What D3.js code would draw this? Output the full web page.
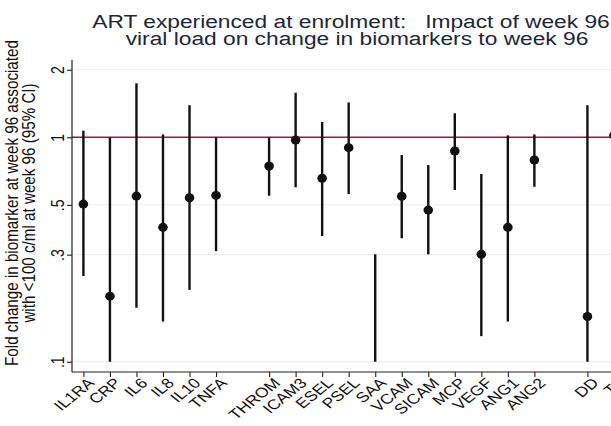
<!DOCTYPE html>
<html>
<head>
<meta charset="utf-8">
<script src="https://cdn.jsdelivr.net/npm/d3@7"></script>
<style>
html,body{margin:0;padding:0;background:#fff;overflow:hidden;}
svg{display:block;font-family:"Liberation Sans",Arial,sans-serif;}
text{white-space:pre;}
</style>
</head>
<body>
<svg id="chart" width="611" height="426"></svg>
<script>
// ---- data ----
const categories = ["IL1RA","CRP","IL6","IL8","IL10","TNFA","THROM","ICAM3","ESEL","PSEL","SAA","VCAM","SICAM","MCP","VEGF","ANG1","ANG2","DD","TF"];
const slots      = [1,2,3,4,5,6,8,9,10,11,12,13,14,15,16,17,18,20,21];
const estimate   = [0.504,0.196,0.547,0.397,0.538,0.551,0.745,0.973,0.657,0.899,0.07,0.546,0.474,0.869,0.301,0.397,0.792,0.159,1.02];
const lower      = [0.241,0.100,0.174,0.151,0.209,0.311,0.549,0.599,0.363,0.559,0.100,0.355,0.301,0.582,0.130,0.151,0.602,0.100,0.75];
const upper      = [1.07,1.00,1.74,1.03,1.39,1.00,1.00,1.58,1.17,1.43,0.301,0.834,0.752,1.28,0.686,1.02,1.03,1.39,1.40];
const yTicks     = [0.1,0.3,0.5,1,2];
const yTickLabels= [".1",".3",".5","1","2"];
const refValue   = 1;
const titleLines = ["ART experienced at enrolment:   Impact of week 96","viral load on change in biomarkers to week 96"];
const yTitleLines= ["Fold change in biomarker at week 96 associated","with <100 c/ml at week 96 (95% CI)"];

// ---- layout ----
const svg = d3.select("#chart");
const plotLeft = 72, plotTop = 60, plotBottom = 372;
const sx = 1.25; // horizontal stretch of the original picture's text
const x = d3.scaleLinear().domain([0.57, 22.6]).range([plotLeft, 656.4]);
const y = d3.scaleLog().domain([0.09, 2.21]).range([plotBottom, plotTop]);

svg.append("defs").append("clipPath").attr("id","plotclip")
  .append("rect").attr("x",plotLeft).attr("y",plotTop-5).attr("width",700).attr("height",plotBottom-plotTop+5);

// faint gridlines
svg.append("g").selectAll("line").data(yTicks.filter(t=>t!==refValue)).join("line")
  .attr("x1",plotLeft+2).attr("x2",611).attr("y1",d=>y(d)).attr("y2",d=>y(d))
  .attr("stroke","#ececec").attr("stroke-width",1);

// reference line
svg.append("line").attr("x1",plotLeft).attr("x2",611).attr("y1",y(refValue)).attr("y2",y(refValue))
  .attr("stroke","#a8143c").attr("stroke-width",1.6);

// y axis
const yAxis = d3.axisLeft(y).tickValues(yTicks).tickFormat((d,i)=>yTickLabels[i]).tickSize(5);
const gy = svg.append("g").attr("transform",`translate(${plotLeft},0)`).call(yAxis);
gy.select(".domain").attr("d",`M0,${plotTop}V${plotBottom}`).attr("stroke","#222").attr("stroke-width",1.2);
gy.selectAll(".tick line").attr("stroke","#222").attr("stroke-width",1.1);
gy.selectAll(".tick text").attr("font-size",14).attr("fill","#111")
  .attr("text-anchor","middle").attr("x",0).attr("y",0).attr("dy","0")
  .attr("transform",`translate(-8,0) scale(${sx},1) rotate(-90)`);

// x axis
const xAxis = d3.axisBottom(x).tickValues(slots).tickFormat((d,i)=>categories[i]).tickSize(5);
const gx = svg.append("g").attr("transform",`translate(0,${plotBottom})`).call(xAxis);
gx.select(".domain").attr("d",`M${plotLeft},0H700`).attr("stroke","#222").attr("stroke-width",1.2);
gx.selectAll(".tick line").attr("stroke","#222").attr("stroke-width",1.1);
gx.selectAll(".tick text").attr("font-size",14).attr("fill","#111")
  .attr("text-anchor","end").attr("dy","0.7em").attr("y",0)
  .attr("transform",`translate(3,5) scale(${sx},1) rotate(-45)`);

// marks
const gm = svg.append("g").attr("clip-path","url(#plotclip)");
gm.selectAll("line.ci").data(slots).join("line").attr("class","ci")
  .attr("x1",d=>x(d)).attr("x2",d=>x(d))
  .attr("y1",(d,i)=>y(lower[i])).attr("y2",(d,i)=>y(upper[i]))
  .attr("stroke","#111").attr("stroke-width",2.4);
gm.selectAll("ellipse").data(slots).join("ellipse")
  .attr("cx",d=>x(d)).attr("cy",(d,i)=>y(estimate[i])).attr("rx",4.8).attr("ry",4.5).attr("fill","#111");

// title
svg.append("g").selectAll("text").data(titleLines).join("text")
  .attr("transform",(d,i)=>`translate(${i===0?351:357},${27.5+i*17.7}) scale(${sx},1)`)
  .attr("text-anchor","middle")
  .attr("font-size",18.2).attr("fill","#1c2838").text(d=>d);

// y title
svg.append("g").selectAll("text").data(yTitleLines).join("text")
  .attr("transform",(d,i)=>`translate(${18+i*16.5},203) scale(${sx},1) rotate(-90)`)
  .attr("text-anchor","middle").attr("font-size",15.2).attr("fill","#111").text(d=>d);
</script>
</body>
</html>
